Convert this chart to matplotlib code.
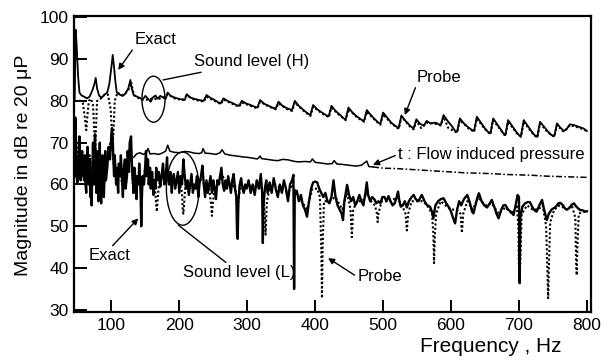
import numpy as np
import matplotlib
matplotlib.use('Agg')
import matplotlib.pyplot as plt
from matplotlib.patches import Ellipse

plt.rcParams['font.family'] = ['Liberation Sans', 'DejaVu Sans']

# Sound level (H), exact: frequency [Hz], level [dB]
h_exact_f = [46, 47.5, 49, 51, 53, 56, 60, 64, 68, 72, 75, 77, 79, 82, 86, 90, 94, 97, 100, 102,
             104, 106, 108, 112, 117, 121, 125, 128, 130, 133, 138, 142, 146, 150, 154, 158, 161, 165, 168, 172,
             176, 180, 183, 187, 193, 199, 205, 208, 211, 216, 222, 229, 236, 240, 245, 252, 258, 261, 265, 271,
             278, 284, 288, 292, 298, 305, 311, 315, 319, 325, 332, 338, 342, 346, 352, 359, 366, 370, 376, 383,
             389, 393, 397, 403, 410, 416, 420, 424, 430, 437, 442, 445, 449, 455, 462, 468, 472, 476, 481, 488,
             493, 496, 500, 506, 512, 518, 523, 527, 533, 540, 545, 549, 554, 560, 564, 570, 577, 582, 585, 589,
             595, 602, 606, 609, 613, 619, 626, 631, 634, 638, 644, 650, 655, 658, 662, 668, 674, 678, 680, 684,
             690, 696, 700, 703, 707, 713, 719, 724, 727, 731, 737, 743, 748, 752, 756, 761, 766, 770, 775, 781,
             788, 795, 800]
h_exact_db = [80.5, 97, 93, 86, 82, 81.3, 81, 80.6, 81, 82.5, 84, 85.5, 83, 81.2, 80.8, 81.5, 82, 84, 88, 91,
              88, 84.5, 82, 81.5, 81.2, 81.8, 83, 85, 83, 81.3, 81, 80.7, 80.3, 81.2, 80.5, 79.8, 80.8, 81.3, 80.5, 81.2,
              80.8, 80.5, 82, 81.2, 80.8, 80.5, 80.3, 80.2, 81.6, 80.8, 80.5, 80.2, 80, 81.4, 80.8, 80.2, 79.6, 79.4, 80.6, 80,
              79.5, 79, 78.8, 80, 79.4, 79, 78.6, 78.4, 80.2, 79.3, 78.8, 78.3, 78.2, 79.8, 78.8, 78.2, 77.8, 80, 78.8, 77.8,
              77, 76.6, 79, 78, 77.2, 76.6, 76.3, 78.8, 77.6, 76.6, 75.8, 75.6, 78.4, 77.2, 76.2, 75.5, 75.2, 77.8, 76.8, 75.6,
              74.8, 74.5, 77.2, 76, 74.8, 74, 73.5, 76.5, 75.2, 74, 73.4, 75.6, 74.6, 74, 75.2, 74.6, 74.8, 74.4, 74.3, 76.6,
              75.2, 73.8, 72.8, 72.6, 75.8, 74.6, 73.6, 73, 72.8, 76.2, 74.8, 73.4, 72.5, 72.2, 75.8, 74.4, 73, 72, 71.8, 75.4,
              74, 72.6, 71.8, 71.6, 75.4, 74, 72.6, 71.6, 71.4, 75, 73.8, 72.6, 71.8, 71.6, 74.6, 73.6, 72.8, 73.2, 74.4, 74.2,
              73.8, 73.4, 72.8]

# Sound level (H), probe
h_probe_f = [46, 50, 55, 58, 61, 63, 65, 67, 70, 73, 75, 76, 77, 79, 84, 90, 95, 99, 101, 102,
             103, 105, 109, 115, 120, 125, 129, 133, 138, 146, 154, 161, 168, 176, 183, 193, 205, 211, 222, 236,
             240, 252, 261, 265, 278, 288, 292, 305, 315, 319, 332, 342, 346, 359, 366, 370, 383, 393, 397, 410,
             420, 424, 437, 445, 449, 462, 472, 476, 488, 496, 500, 512, 523, 527, 540, 545, 549, 556, 564, 577,
             585, 589, 596, 609, 613, 626, 634, 638, 650, 658, 662, 674, 680, 684, 696, 703, 707, 719, 727, 731,
             743, 752, 756, 766, 775, 788, 800]
h_probe_db = [80, 80, 80, 79.5, 76, 73, 77, 80, 80.5, 79, 72, 68, 72, 80, 80.5, 81.5, 81.5, 78, 72, 70,
              72, 80, 82, 81.3, 81.8, 82.5, 84.5, 81.5, 80.8, 80.3, 80.3, 80.6, 80.4, 80.8, 81.6, 80.6, 80.2, 81.3, 80.3, 79.8,
              81, 80, 79.2, 80.3, 79.3, 78.6, 79.6, 78.8, 78.2, 79.8, 78.6, 78, 79.4, 78, 77.6, 79.6, 77.6, 76.4, 78.6, 77,
              76.1, 78.4, 76.4, 75.4, 78, 76, 75, 77.4, 75.4, 74.3, 76.8, 74.6, 73.3, 76.2, 73.8, 73.2, 75.2, 73.5, 74.8, 74.5,
              74.1, 76.2, 73.5, 72.4, 75.4, 73.4, 72.6, 75.8, 73.2, 72, 75.4, 72.8, 71.6, 75, 72.4, 71.4, 75, 72.4, 71.2, 74.6,
              72.4, 71.4, 74.2, 72.6, 74.2, 73.6, 72.8]

# Flow induced pressure (solid part, then dashed part)
flow_f = [133, 137, 142, 147, 151, 154, 157, 163, 170, 176, 180, 183, 186, 192, 200, 208, 215, 222, 229, 233,
          235, 238, 246, 254, 260, 263, 267, 275, 285, 293, 300, 308, 315, 319, 321, 330, 338, 345, 352, 360,
          367, 375, 385, 393, 396, 400, 410, 418, 425, 428, 432, 440, 450, 460, 468, 476, 479, 485]
flow_db = [66.5, 67.3, 67.6, 67.2, 67.5, 68.6, 67.3, 67.4, 67.2, 67.6, 68, 69.4, 68, 67.7, 67.6, 67.9, 67.8, 67.5, 67.4, 67.6,
           68.6, 67.5, 67.4, 67.2, 67.6, 68.3, 67.3, 67, 66.8, 66.6, 66.5, 66.3, 66.1, 66.8, 66.2, 66, 65.8, 65.7, 66, 65.9,
           65.6, 65.4, 65.5, 65.4, 66.1, 65.3, 65.1, 64.9, 65, 65.7, 64.9, 64.8, 64.6, 64.4, 64.6, 65.6, 64.3, 64.2]
flow_tail_f = [485, 500, 520, 540, 560, 580, 600, 620, 640, 660, 680, 700, 720, 740, 760, 780, 800]
flow_tail_db = [64.2, 63.9, 63.8, 63.6, 63.4, 63.2, 63, 62.8, 62.7, 62.6, 62.4, 62.3, 62.2, 62, 61.9, 61.8, 61.7]

# Sound level (L), exact
l_exact_f = [46, 47, 48, 49, 50, 52, 53, 54, 55, 57, 58, 60, 61, 62, 63, 64, 65, 66, 67, 68,
             69, 70, 71, 72, 73, 74, 75, 76, 77, 78, 79, 80, 81, 82, 83, 84, 85, 86, 87, 88,
             89, 90, 91, 92, 94, 96, 98, 100, 101, 102, 103, 104, 105, 107, 108, 110, 111, 113, 114, 116,
             117, 118, 120, 121, 123, 124, 126, 127, 129, 130, 131, 133, 134, 136, 137, 138, 140, 141, 143, 144,
             145, 146, 148, 150, 151, 152, 154, 155, 157, 158, 160, 162, 163, 165, 166, 168, 170, 172, 174, 176,
             178, 180, 182, 183, 185, 187, 189, 190, 192, 194, 196, 198, 200, 202, 204, 206, 208, 210, 212, 214,
             216, 218, 220, 222, 224, 226, 228, 230, 232, 234, 236, 238, 240, 242, 244, 246, 248, 250, 252, 254,
             256, 258, 260, 262, 264, 266, 268, 270, 272, 274, 276, 278, 280, 282, 284, 285, 286, 287, 289, 291,
             293, 295, 297, 299, 302, 305, 308, 311, 314, 317, 320, 322, 323, 324, 326, 328, 330, 333, 336, 339,
             342, 345, 348, 351, 354, 357, 360, 363, 366, 368, 369, 370, 373, 376, 379, 382, 385, 388, 391, 394,
             397, 400, 403, 406, 409, 412, 415, 418, 421, 424, 427, 430, 433, 436, 439, 441, 443, 447, 450, 453,
             456, 459, 462, 465, 468, 471, 474, 476, 478, 481, 484, 487, 490, 493, 496, 499, 502, 505, 508, 511,
             514, 517, 520, 522, 524, 526, 529, 532, 535, 538, 542, 545, 548, 552, 557, 561, 565, 569, 572, 574,
             577, 581, 585, 589, 593, 597, 600, 603, 606, 609, 612, 615, 619, 624, 628, 631, 633, 636, 639, 641,
             645, 649, 653, 657, 660, 664, 667, 670, 674, 677, 680, 684, 688, 692, 695, 698, 700, 701, 702, 705,
             709, 713, 716, 720, 723, 726, 730, 734, 737, 741, 744, 748, 751, 755, 758, 761, 765, 768, 771, 775,
             778, 781, 784, 787, 790, 794, 798, 800]
l_exact_db = [62, 76, 70, 62, 60.5, 66, 71.5, 62, 61, 68, 63, 61, 67, 60, 58, 65, 69, 61, 60, 66,
              57, 63, 55, 64, 70, 60, 66, 72, 62, 58, 68, 61, 56, 64, 70, 59, 55.5, 62, 67, 59,
              57, 63, 68, 61, 64, 69, 66, 72, 73.5, 71, 66, 62, 67, 60, 64, 58, 65, 62, 67, 60,
              57, 63, 66, 59, 62, 68, 63, 70, 71.5, 66, 62, 58, 64, 60, 56.5, 62, 60, 65, 58, 50,
              57, 62, 60, 65, 68, 62, 66, 60, 64, 59, 63, 57.5, 61, 59, 64, 61, 63, 59.5, 62, 65,
              60, 62, 66.5, 62, 60, 63, 58, 61, 62.5, 59, 61, 63, 58, 62, 60, 66, 62, 59, 61, 57.5,
              60, 62.5, 58, 60, 59, 62, 57, 60.5, 62, 64.5, 60, 57, 61, 58, 60, 62, 58, 61, 59, 56.5,
              61, 60, 62, 64, 60, 58.5, 61, 59, 62, 60, 58, 61, 62.5, 59, 57, 48, 47, 56, 60, 61.5,
              59, 58, 60, 59, 61, 58, 60, 57.5, 61, 59, 62.5, 58, 46, 55, 59, 61, 58, 60.5, 58, 61.5,
              59, 57, 60, 58, 61, 59, 56, 60, 61, 62.3, 35, 58, 58.5, 56, 57.5, 55, 54, 52.3, 56, 59,
              60.5, 60.7, 60.5, 59, 58, 57, 58, 56, 55.5, 57, 61, 57, 55, 54, 53, 51.5, 56, 59.9, 57.5, 56,
              57, 55, 56, 57.5, 56, 55, 58, 60.5, 57.5, 56, 57, 56.5, 55.5, 56, 55.5, 57, 57, 56, 57.2, 56,
              55, 55.5, 57, 58.3, 56, 54.7, 55, 56, 54.5, 56, 57, 57.5, 56.5, 56, 57.5, 56, 55, 54.7, 53.5, 51.9,
              55, 56, 56.5, 56.7, 55.5, 54.5, 53.5, 52, 50.7, 54, 56, 55, 56.5, 57.5, 55.5, 53.5, 53.1, 55, 57, 57.9,
              56, 55, 54.5, 55.5, 56.3, 54.5, 53, 51.9, 54, 55, 55.1, 54, 53.5, 52.7, 55, 57.5, 57, 36.4, 52, 54.7,
              55.5, 55.8, 55.8, 54.5, 53.8, 53.5, 55, 56.3, 54, 51.5, 53, 54, 54.3, 54.8, 55.5, 55.6, 55, 54.2, 54, 54.5,
              55.2, 55.5, 54.8, 54.3, 53.9, 53.8, 53.5, 53.6]

# Sound level (L), probe
l_probe_f = [46, 48, 52, 56, 60, 64, 68, 72, 76, 80, 84, 88, 92, 96, 100, 104, 108, 112, 116, 120,
             124, 128, 131, 132, 133, 138, 142, 146, 150, 155, 160, 164, 166, 167, 168, 170, 175, 180, 184, 187,
             189, 192, 196, 200, 204, 205, 206, 207, 209, 214, 220, 226, 232, 238, 244, 247, 248, 249, 252, 258,
             264, 270, 276, 282, 285, 286, 287, 290, 296, 302, 308, 314, 320, 325, 327, 329, 333, 340, 350, 360,
             366, 372, 380, 388, 396, 403, 407, 409, 410, 411, 413, 420, 430, 440, 447, 452, 454, 456, 462, 470,
             476, 482, 488, 491, 492, 493, 498, 505, 512, 520, 528, 533, 535, 537, 542, 550, 558, 565, 572, 574,
             575, 576, 578, 585, 592, 600, 608, 614, 616, 618, 624, 632, 640, 650, 660, 670, 680, 690, 697, 699,
             700, 701, 702, 704, 712, 720, 728, 735, 740, 742, 743, 744, 746, 752, 760, 770, 778, 783, 784, 785,
             786, 788, 794, 800]
l_probe_db = [75, 65, 70, 62, 66, 60, 67, 62, 70, 60, 66, 58, 65, 68, 71, 64, 62, 64, 60, 64,
              66, 69, 63, 58, 64, 60, 62, 60, 64, 62, 61, 60, 55, 53.5, 56, 60, 62, 61, 63, 60,
              60, 61, 60, 61, 58, 54, 53, 55, 60, 60, 59, 61, 61, 60, 59, 55, 52.5, 55, 59, 60,
              62, 60, 59, 60, 55, 53, 56, 60, 59, 60, 59, 60, 60, 55, 48, 56, 59, 60, 59, 58,
              60, 58, 56, 54, 59, 59, 57, 45, 32.8, 45, 56, 56, 57, 54, 58, 54, 47.4, 54, 56, 56,
              58, 56, 55, 53, 51, 53, 56, 56, 56, 57, 55, 53, 49, 53, 56, 56, 56, 55, 53, 48,
              41.2, 47, 53, 56, 55, 54, 54, 53, 48.4, 53, 56, 54, 57, 55, 55.5, 53, 54.5, 53, 55, 50,
              40, 36.4, 42, 53, 55, 54, 54, 55, 50, 38, 32.8, 40, 51, 54, 55, 54, 55, 52, 42, 38.3,
              45, 53, 53.5, 53.5]

xticks = [100, 200, 300, 400, 500, 600, 700, 800]
yticks = [30, 40, 50, 60, 70, 80, 90, 100]

fig = plt.figure(figsize=(6.1, 3.61), dpi=100)
ax = fig.add_axes([0.1213, 0.1357, 0.8475, 0.820])

dots = (0, (1, 1.1))
ax.plot(l_probe_f, l_probe_db, color='k', lw=1.5, ls=dots, zorder=2)
ax.plot(l_exact_f, l_exact_db, color='k', lw=1.7, zorder=3)
ax.plot(flow_f, flow_db, color='k', lw=1.1, zorder=3)
ax.plot(flow_tail_f, flow_tail_db, color='k', lw=1.1, ls=(0, (4, 1.5, 1, 1.5)), zorder=3)
ax.plot(h_probe_f, h_probe_db, color='k', lw=1.5, ls=dots, zorder=2)
ax.plot(h_exact_f, h_exact_db, color='k', lw=1.3, zorder=3)

ax.set_xlim(45, 806)
ax.set_ylim(29.5, 100.3)
ax.set_xticks(xticks)
ax.set_yticks(yticks)
ax.tick_params(direction='in', length=9, width=1.4, labelsize=12.5, pad=4)
for sp in ax.spines.values():
    sp.set_linewidth(1.6)

arrow = dict(arrowstyle='-|>', color='k', lw=1, mutation_scale=9, shrinkA=0, shrinkB=0)
plain = dict(arrowstyle='-', color='k', lw=1, shrinkA=0, shrinkB=0)

ax.annotate('Exact', xy=(110, 87.4), xytext=(164.5, 94.6), fontsize=12, ha='center', va='center',
            arrowprops=dict(arrow, relpos=(0.0, 0.0)))
ax.add_patch(Ellipse((162, 80.4), 34, 11, fill=False, lw=1, color='k'))
ax.annotate('Sound level (H)', xy=(176, 85.0), xytext=(222, 89.3), fontsize=12, ha='left', va='center',
            arrowprops=plain)
ax.annotate('Probe', xy=(532, 76.6), xytext=(582, 85.6), fontsize=12, ha='center', va='center',
            arrowprops=dict(arrow, relpos=(0.0, 0.0)))
ax.annotate('t : Flow induced pressure', xy=(485, 64.7), xytext=(522, 67.2), fontsize=12,
            ha='left', va='center', arrowprops=dict(arrow, relpos=(0.0, 0.5)))
ax.annotate('Exact', xy=(139.7, 51.9), xytext=(98, 42.9), fontsize=12, ha='center', va='center',
            arrowprops=dict(arrow, relpos=(0.5, 1.0)))
ax.add_patch(Ellipse((205, 59), 48, 17.5, fill=False, lw=1, color='k', zorder=4))
ax.annotate('Sound level (L)', xy=(198.5, 50.3), xytext=(205, 40.7), fontsize=12, ha='left', va='top',
            arrowprops=plain)
ax.annotate('Probe', xy=(419, 42.4), xytext=(462, 37.9), fontsize=12, ha='left', va='center',
            arrowprops=dict(arrow, relpos=(0.0, 0.5)))

fig.text(24 / 610, 1 - 165 / 361, 'Magnitude in dB re 20 \u03bcP', rotation=90, fontsize=14,
         ha='center', va='center')
fig.text(491 / 610, 1 - 347 / 361, 'Frequency , Hz', fontsize=15, ha='center', va='center')

fig.savefig('out.png', dpi=100)
